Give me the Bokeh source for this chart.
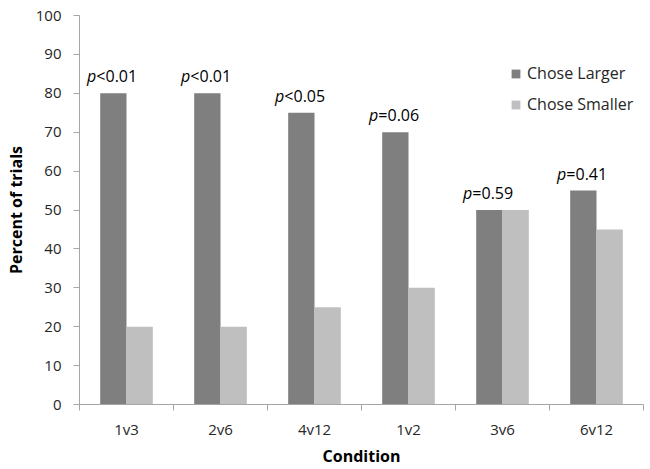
from bokeh.plotting import figure
from bokeh.models import (ColumnDataSource, FixedTicker, Range1d, Legend, LegendItem)
from bokeh.core.properties import value
from bokeh.embed import file_html
from bokeh.resources import INLINE

conditions = ["1v3", "2v6", "4v12", "1v2", "3v6", "6v12"]
chose_larger = [80, 80, 75, 70, 50, 55]
chose_smaller = [20, 20, 25, 30, 50, 45]
p_ops = ["<0.01", "<0.01", "<0.05", "=0.06", "=0.59", "=0.41"]
y_ticks = [0, 10, 20, 30, 40, 50, 60, 70, 80, 90, 100]

DARK = "#7f7f7f"
LIGHT = "#bfbfbf"
AXIS = "#a6a6a6"
FONT = "Open Sans"
BAR_W = 0.28

centers = [i + 0.5 for i in range(len(conditions))]
src = ColumnDataSource(dict(
    xl=[c - BAR_W / 2 for c in centers],
    xs=[c + BAR_W / 2 for c in centers],
    larger=chose_larger,
    smaller=chose_smaller,
    p=["p"] * len(conditions),
    ops=p_ops,
))

p = figure(width=650, height=469, output_backend="svg", toolbar_location=None,
           x_range=Range1d(0, len(conditions)), y_range=Range1d(0, 100),
           min_border_left=79, min_border_right=7, min_border_top=15, min_border_bottom=65)
p.outline_line_color = None
p.xgrid.grid_line_color = None
p.ygrid.grid_line_color = None
p.background_fill_color = "white"
p.border_fill_color = "white"

r1 = p.vbar(x="xl", top="larger", width=BAR_W, source=src, fill_color=DARK, line_color=None)
r2 = p.vbar(x="xs", top="smaller", width=BAR_W, source=src, fill_color=LIGHT, line_color=None)

# p-value annotations: italic "p" + normal rest
p.text(x="xl", y="larger", text="p", source=src, text_font=value(FONT), text_font_style="italic",
       text_font_size="16px", text_align="right", text_baseline="bottom",
       x_offset=-17, y_offset=-6, text_color="black")
p.text(x="xl", y="larger", text="ops", source=src, text_font=value(FONT),
       text_font_size="16px", text_align="left", text_baseline="bottom",
       x_offset=-17, y_offset=-6, text_color="black")

# axes
xa = p.xaxis[0]
xa.ticker = FixedTicker(ticks=centers, minor_ticks=list(range(len(conditions) + 1)))
xa.major_label_overrides = {c: lab for c, lab in zip(centers, conditions)}
xa.major_tick_line_color = None
xa.major_tick_out = 0
xa.major_tick_in = 0
xa.minor_tick_line_color = AXIS
xa.minor_tick_out = 6
xa.minor_tick_in = 0
xa.axis_line_color = AXIS
xa.major_label_standoff = 8
xa.major_label_text_font = FONT
xa.major_label_text_font_size = "15px"
xa.major_label_text_color = "#262626"
xa.axis_label = "Condition"
xa.axis_label_text_font = FONT
xa.axis_label_text_font_size = "16px"
xa.axis_label_text_font_style = "bold"
xa.axis_label_text_color = "black"
xa.axis_label_standoff = 3

ya = p.yaxis[0]
ya.ticker = FixedTicker(ticks=y_ticks)
ya.minor_tick_line_color = None
ya.major_tick_line_color = AXIS
ya.major_tick_out = 6
ya.major_tick_in = 0
ya.axis_line_color = AXIS
ya.major_label_standoff = 12
ya.major_label_text_font = FONT
ya.major_label_text_font_size = "15px"
ya.major_label_text_color = "#262626"
ya.axis_label = "Percent of trials"
ya.axis_label_text_font = FONT
ya.axis_label_text_font_size = "16px"
ya.axis_label_text_font_style = "bold"
ya.axis_label_text_color = "black"
ya.axis_label_standoff = 6

legend = Legend(items=[LegendItem(label="Chose Larger", renderers=[r1]),
                       LegendItem(label="Chose Smaller", renderers=[r2])],
                location=(431, 289), padding=0, margin=0, spacing=9,
                glyph_width=11, glyph_height=11, label_height=20, label_standoff=6,
                label_text_font=FONT, label_text_font_size="16px", label_text_color="#262626",
                border_line_color=None, background_fill_alpha=0)
p.add_layout(legend)

open("out.html", "w").write(file_html(p, INLINE))
